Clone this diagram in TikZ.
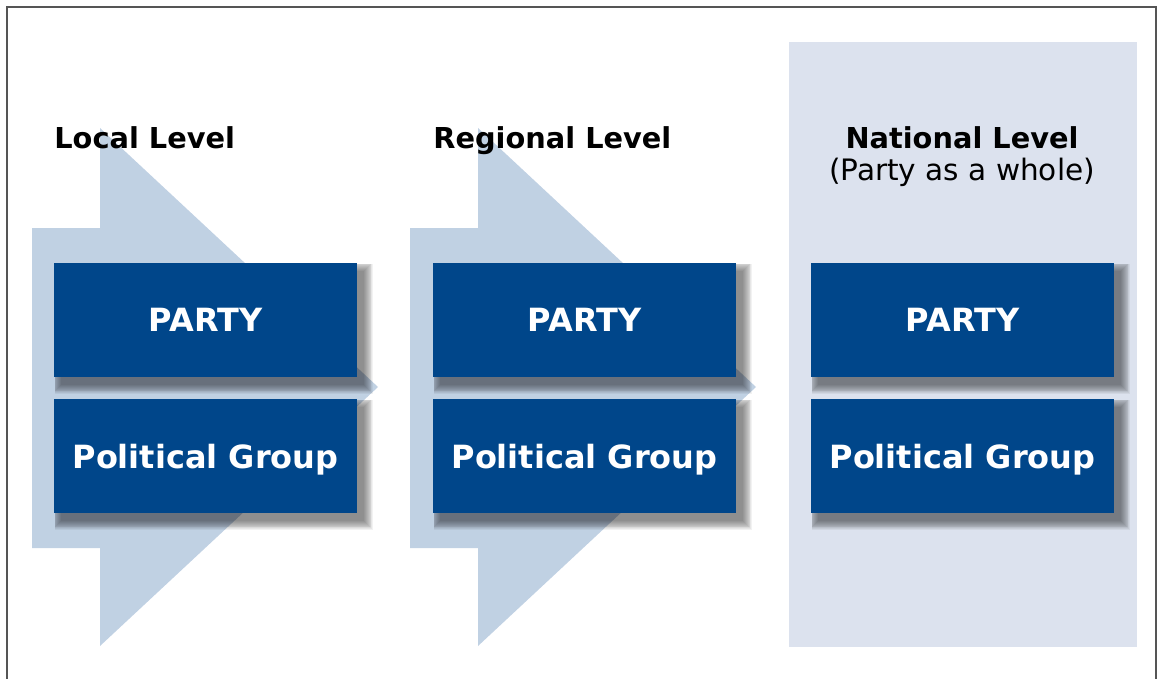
\documentclass[tikz,border=0pt]{standalone}
\usepackage{fontspec}
\setmainfont{DejaVu Sans}

\definecolor{boxblue}{HTML}{00468A}
\definecolor{arrowblue}{HTML}{C0D1E3}
\definecolor{natbg}{HTML}{DCE2EE}
\definecolor{framegray}{HTML}{555555}

\pgfdeclarelayer{back}
\pgfdeclarelayer{shade}
\pgfsetlayers{back,shade,main}

\tikzset{
  levelbox/.style={fill=boxblue, text=white, minimum width=6.06cm, minimum height=2.28cm,
    inner sep=0pt, text depth=0pt, font=\fontsize{18.2}{20}\selectfont\bfseries},
  heading/.style={inner sep=0pt, font=\fontsize{16.4}{19}\selectfont\bfseries},
  subheading/.style={inner sep=0pt, font=\fontsize{16.8}{19}\selectfont},
  shadelayer/.style={fill=black, opacity=0.05},
}

\begin{document}
\begin{tikzpicture}[x=0.02cm, y=-0.02cm]
  \useasboundingbox (0,0) rectangle (1163,679);
  \begin{pgfonlayer}{back}
    % frame, open at the bottom
    \draw [framegray, line width=0.8pt] (7,679) -- (7,7) -- (1156,7) -- (1156,679);
    % national background
    \fill [natbg] (789,42) rectangle (1137,647);
    % big arrows
    \fill [arrowblue] (32,228) -- (100,228) -- (100,128) -- (378,387) -- (100,646) -- (100,548) -- (32,548) -- cycle;
    \fill [arrowblue] (410,228) -- (478,228) -- (478,128) -- (756,387) -- (478,646) -- (478,548) -- (410,548) -- cycle;
  \end{pgfonlayer}

  % headings
  \node [heading, anchor=base west] (localhead) at (54,149) {Local Level};
  \node [heading, anchor=base west] (reghead) at (433,149) {Regional Level};
  \node [heading, anchor=base] (nathead) at (962,149) {National Level};
  \node [subheading, anchor=base] (natsub) at (962,180) {(Party as a whole)};

  % boxes
  \node [levelbox] (localparty) at (205.5,320) {PARTY};
  \node [levelbox] (localgroup) at (205.5,456) {Political Group};
  \node [levelbox] (regparty) at (584.5,320) {PARTY};
  \node [levelbox] (reggroup) at (584.5,456) {Political Group};
  \node [levelbox] (natparty) at (962.5,320) {PARTY};
  \node [levelbox] (natgroup) at (962.5,456) {Political Group};

  % soft shadows
  \begin{pgfonlayer}{shade}
    \foreach \b in {localparty,localgroup,regparty,reggroup,natparty,natgroup}
      \foreach \e in {0,0.5,...,5}
        \fill [shadelayer] ([xshift={(4-min(\e,3.5))*1pt}, yshift={(-4.5+min(\e,4))*1pt}]\b.north west)
          rectangle ([xshift={(4+\e)*1pt}, yshift={(-4.5-\e)*1pt}]\b.south east);
  \end{pgfonlayer}
\end{tikzpicture}
\end{document}
